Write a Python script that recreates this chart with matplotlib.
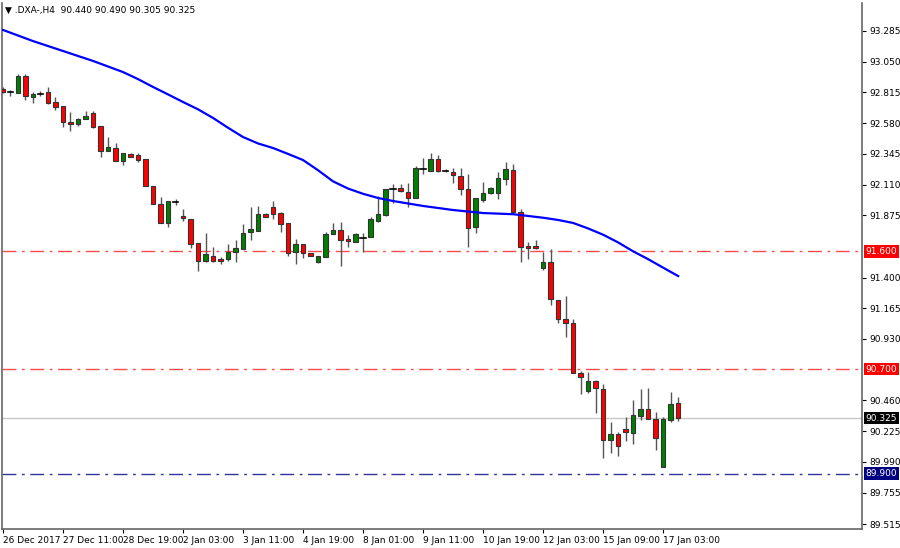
import matplotlib
matplotlib.use("Agg")
import matplotlib.pyplot as plt
import numpy as np

# OHLC, H4 candles
opens = [92.839, 92.823, 92.813, 92.941, 92.783, 92.808, 92.816, 92.740, 92.709, 92.589,
         92.571, 92.612, 92.656, 92.559, 92.370, 92.388, 92.293, 92.342, 92.337, 92.308,
         92.100, 91.962, 91.819, 91.976, 91.873, 91.847, 91.661, 91.526, 91.567, 91.539,
         91.541, 91.593, 91.618, 91.746, 91.758, 91.888, 91.937, 91.891, 91.814, 91.593,
         91.656, 91.585, 91.521, 91.559, 91.733, 91.763, 91.694, 91.674, 91.702, 91.712,
         91.832, 91.880, 92.072, 92.087, 92.051, 92.005, 92.229, 92.217, 92.304, 92.219,
         92.209, 92.179, 92.074, 91.784, 91.990, 92.044, 92.048, 92.151, 92.222, 91.899,
         91.639, 91.639, 91.475, 91.521, 91.228, 91.083, 91.050, 90.672, 90.534, 90.609,
         90.550, 90.157, 90.203, 90.239, 90.213, 90.341, 90.392, 90.318, 89.953, 90.310,
         90.440]
highs = [92.857, 92.834, 92.954, 92.954, 92.816, 92.826, 92.854, 92.783, 92.711, 92.668,
         92.617, 92.675, 92.675, 92.559, 92.472, 92.431, 92.352, 92.350, 92.350, 92.308,
         92.100, 92.018, 91.985, 91.998, 91.924, 91.847, 91.661, 91.738, 91.631, 91.555,
         91.656, 91.687, 91.807, 91.941, 91.949, 91.896, 91.985, 91.901, 91.814, 91.694,
         91.660, 91.588, 91.566, 91.750, 91.819, 91.827, 91.725, 91.738, 91.738, 91.865,
         92.023, 92.076, 92.115, 92.115, 92.120, 92.253, 92.311, 92.350, 92.337, 92.227,
         92.235, 92.240, 92.189, 92.005, 92.133, 92.094, 92.204, 92.286, 92.268, 91.924,
         91.674, 91.687, 91.593, 91.616, 91.228, 91.261, 91.083, 90.685, 90.680, 90.616,
         90.585, 90.297, 90.215, 90.331, 90.463, 90.547, 90.557, 90.374, 90.336, 90.522,
         90.490]
lows = [92.811, 92.788, 92.808, 92.757, 92.737, 92.790, 92.728, 92.681, 92.553, 92.523,
        92.558, 92.610, 92.541, 92.324, 92.370, 92.291, 92.258, 92.319, 92.285, 92.100,
        91.962, 91.819, 91.784, 91.954, 91.834, 91.623, 91.452, 91.521, 91.521, 91.503,
        91.528, 91.521, 91.618, 91.687, 91.758, 91.862, 91.845, 91.746, 91.567, 91.503,
        91.547, 91.565, 91.513, 91.556, 91.733, 91.488, 91.631, 91.672, 91.597, 91.710,
        91.825, 91.870, 91.967, 92.056, 91.941, 92.005, 92.189, 92.217, 92.209, 92.204,
        92.120, 92.031, 91.631, 91.738, 91.975, 92.039, 91.998, 92.107, 91.896, 91.516,
        91.539, 91.620, 91.457, 91.190, 91.054, 90.943, 90.667, 90.509, 90.514, 90.361,
        90.017, 90.060, 90.035, 90.152, 90.127, 90.310, 90.316, 90.081, 89.953, 90.297,
        90.305]
closes = [92.821, 92.819, 92.941, 92.788, 92.803, 92.806, 92.732, 92.706, 92.591, 92.574,
          92.610, 92.637, 92.549, 92.370, 92.396, 92.293, 92.350, 92.319, 92.298, 92.100,
          91.962, 91.819, 91.983, 91.974, 91.853, 91.654, 91.528, 91.580, 91.526, 91.528,
          91.593, 91.623, 91.738, 91.769, 91.883, 91.865, 91.883, 91.807, 91.590, 91.656,
          91.585, 91.567, 91.564, 91.733, 91.763, 91.687, 91.679, 91.733, 91.700, 91.845,
          91.886, 92.074, 92.076, 92.064, 92.005, 92.235, 92.226, 92.304, 92.217, 92.215,
          92.184, 92.074, 91.776, 92.005, 92.048, 92.087, 92.159, 92.227, 91.901, 91.631,
          91.626, 91.623, 91.521, 91.233, 91.083, 91.050, 90.667, 90.637, 90.609, 90.557,
          90.157, 90.203, 90.111, 90.221, 90.349, 90.392, 90.318, 90.170, 90.316, 90.433,
          90.325]

# moving average, sampled every couple of bars
ma_idx = [0, 4, 8, 12, 16, 18, 20, 22, 24, 26, 28, 30, 32, 34, 36, 38, 40, 42, 44, 46, 48,
          50, 52, 56, 60, 64, 68, 72, 74, 76, 78, 80, 82, 84, 86, 88, 90]
ma_val = [93.293, 93.208, 93.132, 93.056, 92.971, 92.917, 92.857, 92.800, 92.742, 92.686,
          92.620, 92.545, 92.474, 92.425, 92.390, 92.345, 92.298, 92.220, 92.135, 92.080,
          92.040, 92.008, 91.985, 91.947, 91.916, 91.893, 91.884, 91.857, 91.840, 91.817,
          91.775, 91.727, 91.668, 91.600, 91.540, 91.475, 91.411]

time_ticks = [0, 8, 16, 24, 32, 40, 48, 56, 64, 72, 80, 88]
time_labels = ["26 Dec 2017", "27 Dec 11:00", "28 Dec 19:00", "2 Jan 03:00", "3 Jan 11:00",
               "4 Jan 19:00", "8 Jan 01:00", "9 Jan 11:00", "10 Jan 19:00", "12 Jan 03:00",
               "15 Jan 09:00", "17 Jan 03:00"]
price_ticks = [93.285, 93.050, 92.815, 92.580, 92.345, 92.110, 91.875, 91.400, 91.165,
               90.930, 90.460, 90.225, 89.990, 89.755, 89.515]
levels = [(91.600, "#ff0000"), (90.700, "#ff0000"), (89.900, "#000080")]
last_price = 90.325

fig = plt.figure(figsize=(9, 5.48), dpi=100)
ax = fig.add_axes([2 / 900, 19 / 548, 860 / 900, 526 / 548])
ax.set_xlim(-0.13, 114.5)
ax.set_ylim(89.477, 93.499)

for i, (o, h, l, c) in enumerate(zip(opens, highs, lows, closes)):
    ax.plot([i, i], [l, h], color="#555555", lw=1, zorder=2, solid_capstyle="butt")
    if abs(c - o) < 0.004:
        ax.plot([i - 0.35, i + 0.35], [c, c], color="black", lw=1.2, zorder=3)
        continue
    col = "#008000" if c > o else "#ff0000"
    ax.bar(i, c - o, bottom=o, width=0.6, color=col, edgecolor="#333333", lw=0.8, zorder=3)

ax.plot(ma_idx, ma_val, color="#0000ff", lw=1.6, zorder=4)

ax.axhline(last_price, color="#c8c8c8", lw=1, zorder=1)
for lvl, col in levels:
    ax.axhline(lvl, color=col, lw=1, ls=(0, (10, 4, 2, 4)), alpha=0.7 if col != "#000080" else 0.8, zorder=1)

ax.yaxis.tick_right()
ax.set_yticks(price_ticks)
ax.set_yticklabels([f"{p:.3f}" for p in price_ticks])
ax.set_xticks(time_ticks)
ax.set_xticklabels(time_labels, ha="left")
ax.tick_params(labelsize=6.5, length=3, width=0.8, colors="black", pad=2)
ax.spines["top"].set_visible(False)
for s in ["left", "right", "bottom"]:
    ax.spines[s].set_color("#666666")
    ax.spines[s].set_linewidth(1.2)

for lvl, col in levels + [(last_price, "black")]:
    ax.text(1.004, lvl, f"{lvl:.3f}", transform=ax.get_yaxis_transform(), va="center", ha="left",
            fontsize=6.5, color="white",
            bbox=dict(boxstyle="square,pad=0.2", fc=col, ec="none"), zorder=5)

ax.text(0.004, 0.995, "\u25bc .DXA-,H4  90.440 90.490 90.305 90.325", transform=ax.transAxes,
        va="top", ha="left", fontsize=6.5)

fig.savefig("out.png", dpi=100)
